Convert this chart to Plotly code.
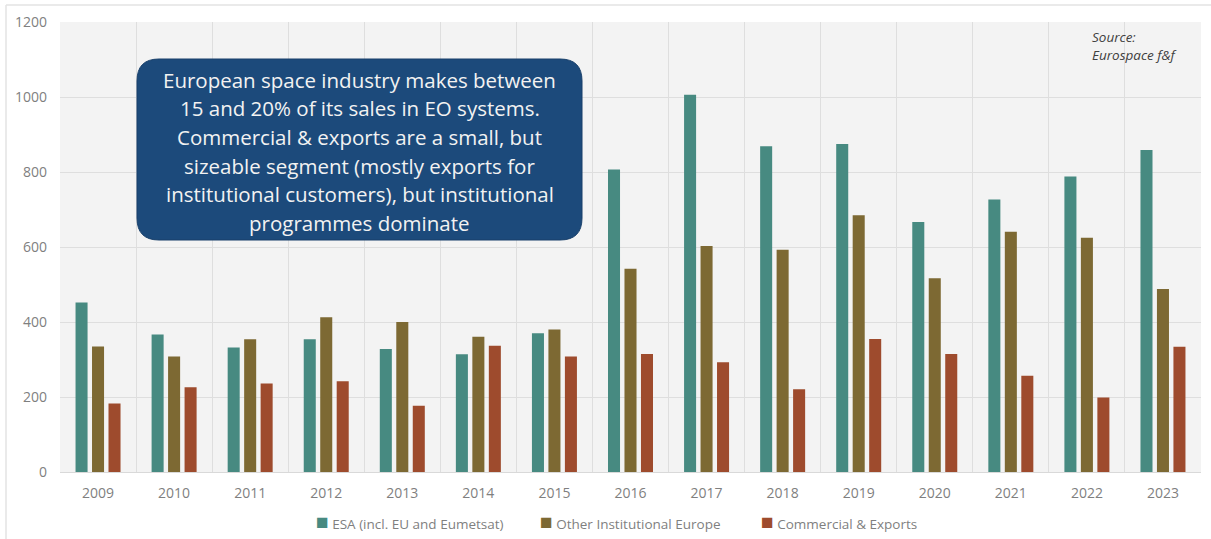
import plotly.graph_objects as go

years = ["2009", "2010", "2011", "2012", "2013", "2014", "2015", "2016",
         "2017", "2018", "2019", "2020", "2021", "2022", "2023"]
esa = [452, 367, 332, 354, 328, 314, 370, 807, 1006, 869, 875, 667, 727, 788, 859]
other_inst = [335, 308, 354, 413, 400, 361, 380, 542, 603, 593, 685, 517, 641, 625, 488]
commercial = [183, 226, 236, 242, 177, 337, 308, 315, 293, 221, 355, 315, 257, 199, 334]

series_names = ["ESA (incl. EU and Eumetsat)", "Other Institutional Europe", "Commercial & Exports"]
series_colors = ["#478a81", "#7d6933", "#9e4b2d"]
y_ticks = [0, 200, 400, 600, 800, 1000, 1200]

note_lines = [
    "European space industry makes between",
    "15 and 20% of its sales in EO systems.",
    "Commercial & exports are a small, but",
    "sizeable segment (mostly exports for",
    "institutional customers), but institutional",
    "programmes dominate",
]

W, H = 1211, 539
ML, MR, MT, MB = 60, 10, 22, 67
PW, PH = W - ML - MR, H - MT - MB


def px_x(x):
    return (x - ML) / PW


def px_y(y):
    return (H - MB - y) / PH


FONT = "Open Sans"

fig = go.Figure()
for vals, name, col in zip([esa, other_inst, commercial], series_names, series_colors):
    fig.add_trace(go.Bar(x=years, y=vals, name=name, marker=dict(color=col, line=dict(width=0)),
                         showlegend=False))

# rounded note box
x0, x1 = px_x(137), px_x(582)
y0, y1 = px_y(240), px_y(59)
rx, ry = 22 / PW, 22 / PH
path = (f"M {x0+rx},{y1} L {x1-rx},{y1} Q {x1},{y1} {x1},{y1-ry} "
        f"L {x1},{y0+ry} Q {x1},{y0} {x1-rx},{y0} L {x0+rx},{y0} "
        f"Q {x0},{y0} {x0},{y0+ry} L {x0},{y1-ry} Q {x0},{y1} {x0+rx},{y1} Z")
shapes = [
    dict(type="path", path=path, xref="paper", yref="paper",
         fillcolor="#1c4a7b", line=dict(color="#183f6a", width=1), layer="above"),
    dict(type="line", xref="paper", yref="paper", x0=px_x(6), x1=px_x(6), y0=px_y(5), y1=px_y(539),
         line=dict(color="#e3e3e3", width=1.5)),
    dict(type="line", xref="paper", yref="paper", x0=px_x(6), x1=px_x(1211), y0=px_y(5), y1=px_y(5),
         line=dict(color="#e3e3e3", width=1.5)),
]

annotations = []
cx = px_x((137 + 582) / 2)
for i, line in enumerate(note_lines):
    annotations.append(dict(text=line, xref="paper", yref="paper", x=cx, y=px_y(79.5 + i * 28.7),
                            xanchor="center", yanchor="middle", showarrow=False,
                            font=dict(family=FONT, size=20.5, color="#f2f2f2")))

annotations.append(dict(text="<i>Source:<br>Eurospace f&f</i>", xref="paper", yref="paper",
                        x=px_x(1090), y=px_y(26), xanchor="left", yanchor="top", align="left",
                        showarrow=False, font=dict(family=FONT, size=13.5, color="#404040")))

legend_x = [317, 541, 762]
for name, col, lx in zip(series_names, series_colors, legend_x):
    annotations.append(dict(text=f"<span style='color:{col};font-size:21px'>■</span> {name}",
                            xref="paper", yref="paper",
                            x=px_x(lx - 3), y=px_y(521), xanchor="left", yanchor="middle",
                            showarrow=False, font=dict(family=FONT, size=13.5, color="#7f7f7f")))

fig.update_layout(
    width=W, height=H,
    margin=dict(l=ML, r=MR, t=MT, b=MB),
    paper_bgcolor="white",
    plot_bgcolor="#f3f3f3",
    barmode="group",
    bargap=0.35,
    bargroupgap=0.27,
    shapes=shapes,
    annotations=annotations,
    font=dict(family=FONT, color="#7f7f7f"),
)
fig.update_xaxes(type="category", tickson="boundaries", showgrid=True, gridcolor="#dedede", gridwidth=1,
                 ticks="", showline=True, linecolor="#d9d9d9", tickfont=dict(size=14, color="#7f7f7f"),
                 ticklabelstandoff=8)
fig.update_yaxes(range=[0, 1200], tickvals=y_ticks, showgrid=True, gridcolor="#dedede", gridwidth=1,
                 zeroline=False, ticks="", tickfont=dict(size=14, color="#7f7f7f"),
                 ticklabelstandoff=12)

fig.write_html("out.html")
